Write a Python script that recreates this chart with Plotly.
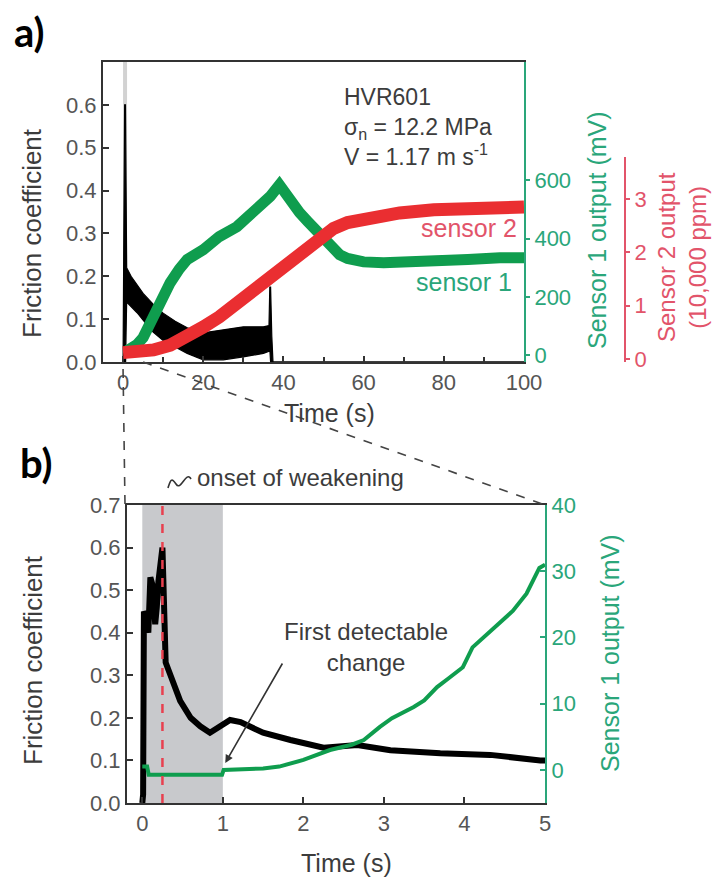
import plotly.graph_objects as go

W, H = 712, 877

# ---------------- panel a: full run (0-100 s) ----------------
# friction coefficient, drawn as the envelope of the noisy record
fric_a_t = [0, 0.4, 0.6, 0.9, 2, 3.5, 5, 7.5, 10, 13, 16, 20, 25, 30, 35, 36.4, 36.6, 36.8, 37.1, 37.4, 100]
fric_a_hi = [0, 0.60, 0.60, 0.22, 0.20, 0.18, 0.16, 0.135, 0.114, 0.095, 0.08, 0.068, 0.075, 0.082, 0.082, 0.085, 0.175, 0.175, 0.06, 0.0, 0]
fric_a_lo = [0, 0.0, 0.0, 0.14, 0.13, 0.115, 0.098, 0.07, 0.05, 0.035, 0.02, 0.005, 0.005, 0.012, 0.02, 0.025, 0.03, 0.0, 0.0, 0.0, 0]

# sensor 1 output (mV)
s1_a_t = [1, 3.4, 5, 7.6, 9.5, 11.75, 14, 16, 20, 24, 28.4, 32.6, 36.7, 39, 42.5, 44, 46, 48, 50, 52, 54, 56, 60, 65, 70, 77.5, 86, 94, 100]
s1_a_mv = [15, 35, 60, 131, 195, 248, 295, 328, 362, 407, 441, 490, 545, 585, 510, 490, 460, 430, 395, 365, 345, 332, 320, 317, 318, 321, 328, 334, 334]

# sensor 2 output (10,000 ppm)
s2_a_t = [0, 4, 7.6, 11.75, 16, 20, 24, 28.4, 32.6, 36.7, 41, 45, 49, 52.5, 56, 60.75, 65, 69, 77.5, 86, 93, 100]
s2_a_val = [0.12, 0.12, 0.17, 0.26, 0.41, 0.6, 0.79, 1.05, 1.29, 1.54, 1.8, 2.04, 2.27, 2.45, 2.56, 2.64, 2.7, 2.74, 2.8, 2.83, 2.84, 2.85]

# ---------------- panel b: first 5 s ----------------
fric_b_t = [0, 0.01, 0.02, 0.04, 0.075, 0.1, 0.13, 0.16, 0.18, 0.2, 0.25, 0.29, 0.35, 0.47, 0.6, 0.72, 0.84, 0.97, 1.09, 1.22, 1.5, 1.84, 2.25, 2.67, 3.08, 3.7, 4.32, 4.94, 5.0]
fric_b = [0.0, 0.02, 0.45, 0.44, 0.40, 0.53, 0.51, 0.42, 0.46, 0.52, 0.60, 0.33, 0.30, 0.24, 0.20, 0.18, 0.165, 0.18, 0.195, 0.19, 0.165, 0.148, 0.13, 0.136, 0.124, 0.117, 0.113, 0.10, 0.10]

s1_b_t = [0.0, 0.06, 0.08, 0.5, 0.99, 1.01, 1.5, 1.7, 1.85, 2.0, 2.33, 2.6, 2.75, 2.95, 3.1, 3.37, 3.5, 3.66, 3.8, 3.98, 4.1, 4.32, 4.6, 4.77, 4.93, 5.0]
s1_b_mv = [0.5, 0.5, -0.75, -0.75, -0.75, 0.0, 0.2, 0.5, 1.0, 1.5, 3.0, 3.8, 4.5, 6.5, 7.8, 9.5, 10.5, 12.5, 13.8, 15.5, 18.5, 21, 24, 26.6, 30.5, 31]

# tick labels
xa_ticks = [0, 20, 40, 60, 80, 100]
xa_minor = [10, 30, 50, 70, 90]
ya_ticks = [0.0, 0.1, 0.2, 0.3, 0.4, 0.5, 0.6]
s1a_ticks = [0, 200, 400, 600]
s2a_ticks = [0, 1, 2, 3]
xb_ticks = [0, 1, 2, 3, 4, 5]
yb_ticks = [0.0, 0.1, 0.2, 0.3, 0.4, 0.5, 0.6, 0.7]
s1b_ticks = [0, 10, 20, 30, 40]

# ---------------- styling ----------------
FONT = "Liberation Sans"
TXT = "#3c3c3c"
TICK = "#555555"
AX = "#333333"
GREEN = "#0f9d4e"
GREEN_AX = "#2aa67a"
RED = "#ea2e31"
RED_AX = "#e2546a"
SHADE = "#c8c9cc"


def px(x):
    return x / W


def py(y):
    return 1 - y / H


XA_DOM = [px(103), px(524)]
YA_DOM = [py(362), py(62)]
Y3_DOM = [py(362), py(157)]
XB_DOM = [px(127), px(545)]
YB_DOM = [py(803), py(505)]

XA_RNG = [-5, 100]
YA_RNG = [0, 0.70]
S1A_RNG = [-24, 1007]
S2A_RNG = [-0.056, 3.79]
XB_RNG = [-0.19, 5]
YB_RNG = [0, 0.7]
S1B_RNG = [-5, 40]


def to_paper(v, rng, dom):
    return dom[0] + (v - rng[0]) / (rng[1] - rng[0]) * (dom[1] - dom[0])


fig = go.Figure()

# panel a traces
fig.add_trace(go.Scatter(x=fric_a_t, y=fric_a_lo, mode="lines", line=dict(color="black", width=1.2),
                         xaxis="x", yaxis="y", showlegend=False, hoverinfo="skip"))
fig.add_trace(go.Scatter(x=fric_a_t, y=fric_a_hi, mode="lines", line=dict(color="black", width=1.2),
                         fill="tonexty", fillcolor="black", xaxis="x", yaxis="y", showlegend=False))
fig.add_trace(go.Scatter(x=s1_a_t, y=s1_a_mv, mode="lines", line=dict(color=GREEN, width=11),
                         xaxis="x", yaxis="y2", showlegend=False))
fig.add_trace(go.Scatter(x=s2_a_t, y=s2_a_val, mode="lines", line=dict(color=RED, width=13),
                         xaxis="x", yaxis="y3", showlegend=False))

# panel b traces
fig.add_trace(go.Scatter(x=fric_b_t, y=fric_b, mode="lines", line=dict(color="black", width=6),
                         xaxis="x2", yaxis="y4", showlegend=False))
fig.add_trace(go.Scatter(x=s1_b_t, y=s1_b_mv, mode="lines", line=dict(color=GREEN, width=4),
                         xaxis="x2", yaxis="y5", showlegend=False))

tickfont = dict(family=FONT, size=22, color=TICK)
common = dict(showgrid=False, zeroline=False, automargin=False, fixedrange=True)

fig.update_layout(
    width=W, height=H, autosize=False,
    margin=dict(l=0, r=0, t=0, b=0),
    paper_bgcolor="white", plot_bgcolor="rgba(0,0,0,0)",
    font=dict(family=FONT, color=TXT),
    xaxis=dict(domain=XA_DOM, range=XA_RNG, anchor="y", showline=True, linecolor=AX, linewidth=2,
               mirror=True, ticks="inside", ticklen=6, tickwidth=2, tickcolor=AX, tickvals=xa_ticks,
               minor=dict(tickvals=xa_minor, ticks="inside", ticklen=5, tickwidth=2, tickcolor=AX),
               tickfont=tickfont, **common),
    yaxis=dict(domain=YA_DOM, range=YA_RNG, anchor="x", showline=True, linecolor=AX, linewidth=2,
               ticks="inside", ticklen=6, tickwidth=2, tickcolor=AX, tickvals=ya_ticks, tickformat=".1f",
               tickfont=tickfont, **common),
    yaxis2=dict(range=S1A_RNG, overlaying="y", side="right", anchor="x", showline=True,
                linecolor=GREEN_AX, linewidth=2, ticks="outside", ticklen=4, tickwidth=2,
                tickcolor=GREEN_AX, tickvals=s1a_ticks, tickfont=dict(family=FONT, size=22, color=GREEN_AX),
                **common),
    yaxis3=dict(domain=Y3_DOM, range=S2A_RNG, anchor="free", position=px(625), side="right",
                showline=True, linecolor=RED_AX, linewidth=2, ticks="outside", ticklen=4, tickwidth=2,
                tickcolor=RED_AX, tickvals=s2a_ticks, tickfont=dict(family=FONT, size=22, color=RED_AX),
                **common),
    xaxis2=dict(domain=XB_DOM, range=XB_RNG, anchor="y4", showline=True, linecolor=AX, linewidth=2,
                mirror=True, ticks="inside", ticklen=6, tickwidth=2, tickcolor=AX, tickvals=xb_ticks,
                tickfont=tickfont, **common),
    yaxis4=dict(domain=YB_DOM, range=YB_RNG, anchor="x2", showline=True, linecolor=AX, linewidth=2,
                ticks="inside", ticklen=6, tickwidth=2, tickcolor=AX, tickvals=yb_ticks, tickformat=".1f",
                tickfont=tickfont, **common),
    yaxis5=dict(range=S1B_RNG, overlaying="y4", side="right", anchor="x2", showline=True,
                linecolor=GREEN_AX, linewidth=2, ticks="inside", ticklen=5, tickwidth=2,
                tickcolor=GREEN_AX, tickvals=s1b_ticks, tickfont=dict(family=FONT, size=22, color=GREEN_AX),
                **common),
)

shapes = [
    # first second of sliding in panel a
    dict(type="rect", xref="x", yref="y domain", x0=0, x1=1, y0=0, y1=1,
         fillcolor="#d2d2d2", line=dict(width=0), layer="below"),
    # first second of sliding in panel b
    dict(type="rect", xref="x2", yref="y4 domain", x0=0, x1=1, y0=0, y1=1,
         fillcolor=SHADE, line=dict(width=0), layer="below"),
    # onset of weakening marker
    dict(type="line", xref="x2", yref="y4", x0=0.25, x1=0.25, y0=0, y1=0.7,
         line=dict(color="#e8404f", width=2.5, dash="dash"), layer="above"),
]

# dashed lines linking the 0-5 s window of panel a to panel b
a_x0 = to_paper(0, XA_RNG, XA_DOM)
a_x5 = to_paper(5, XA_RNG, XA_DOM)
shapes.append(dict(type="line", xref="paper", yref="paper", x0=a_x0, x1=XB_DOM[0] - px(2),
                   y0=YA_DOM[0] - 0.008, y1=YB_DOM[1], line=dict(color="#444", width=1.6, dash="dash")))
shapes.append(dict(type="line", xref="paper", yref="paper", x0=a_x5, x1=XB_DOM[1],
                   y0=YA_DOM[0], y1=YB_DOM[1], line=dict(color="#444", width=1.6, dash="dash")))
# wavy leader for the onset label
shapes.append(dict(type="path", xref="paper", yref="paper",
                   path=(f"M {px(191)} {py(479)} C {px(186)} {py(470)}, {px(181)} {py(492)}, {px(176)} {py(484)} "
                         f"S {px(170)} {py(482)}, {px(168)} {py(488)}"),
                   line=dict(color="#333", width=1.6)))
fig.update_layout(shapes=shapes)


def label(text, x, y, size, color=TXT, angle=0, xanchor="center", family=None, align="center"):
    f = dict(size=size, color=color)
    if family:
        f["family"] = family
    return dict(text=text, x=x, y=y, xref="paper", yref="paper", xanchor=xanchor, yanchor="middle",
                textangle=angle, showarrow=False, font=f, align=align)


ann = []
# panel letters
ann.append(label("<b>a)</b>", px(12), py(32), 40, color="black", xanchor="left", family="Lato"))
ann.append(label("<b>b)</b>", px(18), py(463), 40, color="black", xanchor="left", family="Lato"))

# axis titles
ann.append(label("Friction coefficient", px(32), py(233), 26, angle=-90))
ann.append(label("Friction coefficient", px(33), py(660), 26, angle=-90))
ann.append(label("Time (s)", px(329), py(413), 25))
ann.append(label("Time (s)", px(346), py(863), 25))
ann.append(label("Sensor 1 output (mV)", px(597), py(230), 25, color=GREEN_AX, angle=-90))
ann.append(label("Sensor 2 output<br>(10,000 ppm)", px(682), py(257), 24, color=RED_AX, angle=-90))
ann.append(label("Sensor 1 output (mV)", px(610), py(653), 25, color=GREEN_AX, angle=-90))

# experiment conditions
ann.append(dict(text="HVR601<br>σ<sub>n</sub> = 12.2 MPa<br>V = 1.17 m s<sup>-1</sup>",
                x=54.5, y=0.549, xref="x", yref="y", xanchor="left", yanchor="middle", align="left",
                showarrow=False, font=dict(size=23, color=TXT)))
# series labels
ann.append(dict(text="sensor 2", x=98.7, y=0.313, xref="x", yref="y", xanchor="right", yanchor="middle",
                showarrow=False, font=dict(size=25, color=RED_AX)))
ann.append(dict(text="sensor 1", x=97.5, y=0.187, xref="x", yref="y", xanchor="right", yanchor="middle",
                showarrow=False, font=dict(size=25, color=GREEN_AX)))

# onset of weakening
ann.append(label("onset of weakening", px(195), py(477), 24, xanchor="left"))
ann.append(dict(text="", x=0.25, y=0.71, xref="x2", yref="y4", ax=168 - 162, ay=488 - 501,
                showarrow=True, arrowhead=2, arrowsize=1, arrowwidth=1.6, arrowcolor="#333"))

# first detectable change
ann.append(label("First detectable<br>change", px(366), py(647), 24))
ann.append(dict(text="", x=1.03, y=0.094, xref="x2", yref="y4", ax=283 - 225, ay=662 - 763,
                showarrow=True, arrowhead=2, arrowsize=1, arrowwidth=1.6, arrowcolor="#333"))

fig.update_layout(annotations=ann)

fig.write_html("out.html")
